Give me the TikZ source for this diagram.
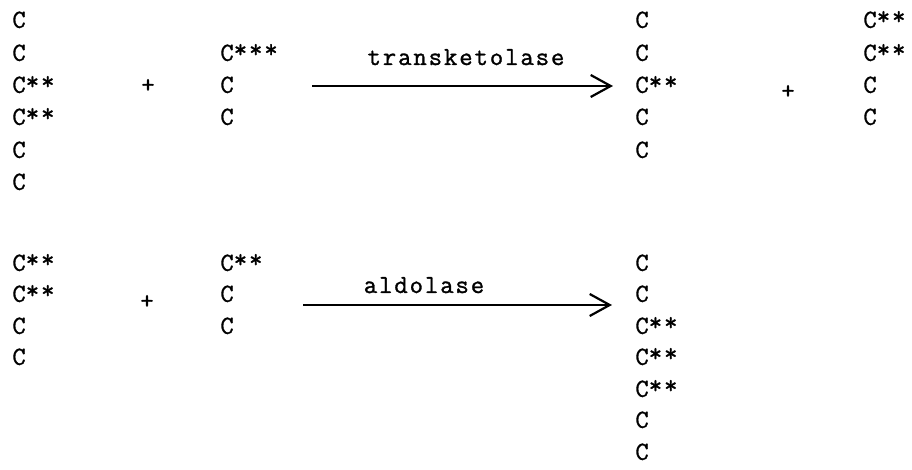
\documentclass[tikz,border=0pt]{standalone}
\usepackage{fontspec}
\setmonofont[LetterSpace=7.3, FakeBold=1.2]{Latin Modern Mono}
\usetikzlibrary{arrows.meta}
\newcommand{\lab}[1]{C\raisebox{1.6pt}{#1}}

\begin{document}
\begin{tikzpicture}[x=0.5pt, y=-0.5pt,
		carbon/.style={anchor=west, inner sep=0pt, text height=7.8pt, text depth=0pt, font=\ttfamily\fontsize{13}{15}\selectfont},
		plus/.style={inner sep=0pt, font=\ttfamily\fontsize{13}{15}\selectfont},
		enzyme/.style={anchor=base, inner sep=0pt, font=\ttfamily\fontsize{13}{15}\selectfont},
		reaction/.style={line width=1.1pt, -{Straight Barb[length=10pt, width=11pt, line width=1.1pt]}}]
			\useasboundingbox (0, 0) rectangle (912, 470);

			% transketolase
			\draw (12, 20) 		node[carbon] 	(hex1) 		{C};
			\draw (12, 53) 		node[carbon] 	(hex2) 		{C};
			\draw (12, 85) 		node[carbon] 	(hex3) 		{\lab{**}};
			\draw (12, 117) 	node[carbon] 	(hex4) 		{\lab{**}};
			\draw (12, 150) 	node[carbon] 	(hex5) 		{C};
			\draw (12, 182) 	node[carbon] 	(hex6) 		{C};
			\draw (148, 86) 	node[plus] 		(plus1) 	{+};
			\draw (220, 53) 	node[carbon] 	(tri1) 		{\lab{***}};
			\draw (220, 85) 	node[carbon] 	(tri2) 		{C};
			\draw (220, 117) 	node[carbon] 	(tri3) 		{C};
			\draw (466, 65) 	node[enzyme] 	(tkl) 		{transketolase};
			\draw (635, 20) 	node[carbon] 	(pen1) 		{C};
			\draw (635, 53) 	node[carbon] 	(pen2) 		{C};
			\draw (635, 85) 	node[carbon] 	(pen3) 		{\lab{**}};
			\draw (635, 117) 	node[carbon] 	(pen4) 		{C};
			\draw (635, 150) 	node[carbon] 	(pen5) 		{C};
			\draw (788, 92) 	node[plus] 		(plus2) 	{+};
			\draw (863, 20) 	node[carbon] 	(tet1) 		{\lab{**}};
			\draw (863, 53) 	node[carbon] 	(tet2) 		{\lab{**}};
			\draw (863, 85) 	node[carbon] 	(tet3) 		{C};
			\draw (863, 117) 	node[carbon] 	(tet4) 		{C};

			% aldolase
			\draw (12, 263) 	node[carbon] 	(ery1) 		{\lab{**}};
			\draw (12, 294) 	node[carbon] 	(ery2) 		{\lab{**}};
			\draw (12, 326) 	node[carbon] 	(ery3) 		{C};
			\draw (12, 357) 	node[carbon] 	(ery4) 		{C};
			\draw (147, 302) 	node[plus] 		(plus3) 	{+};
			\draw (220, 263) 	node[carbon] 	(dha1) 		{\lab{**}};
			\draw (220, 294) 	node[carbon] 	(dha2) 		{C};
			\draw (220, 326) 	node[carbon] 	(dha3) 		{C};
			\draw (424, 293) 	node[enzyme] 	(ald) 		{aldolase};
			\draw (635, 263) 	node[carbon] 	(sed1) 		{C};
			\draw (635, 294) 	node[carbon] 	(sed2) 		{C};
			\draw (635, 326) 	node[carbon] 	(sed3) 		{\lab{**}};
			\draw (635, 357) 	node[carbon] 	(sed4) 		{\lab{**}};
			\draw (635, 389) 	node[carbon] 	(sed5) 		{\lab{**}};
			\draw (635, 420) 	node[carbon] 	(sed6) 		{C};
			\draw (635, 452) 	node[carbon] 	(sed7) 		{C};

			\coordinate (tkl_a) at (312, 86);
			\coordinate (tkl_b) at (613, 86);
			\coordinate (ald_a) at (303, 305);
			\coordinate (ald_b) at (612, 305);
			\draw[reaction] (tkl_a) -- (tkl_b);
			\draw[reaction] (ald_a) -- (ald_b);
		\end{tikzpicture}
\end{document}
